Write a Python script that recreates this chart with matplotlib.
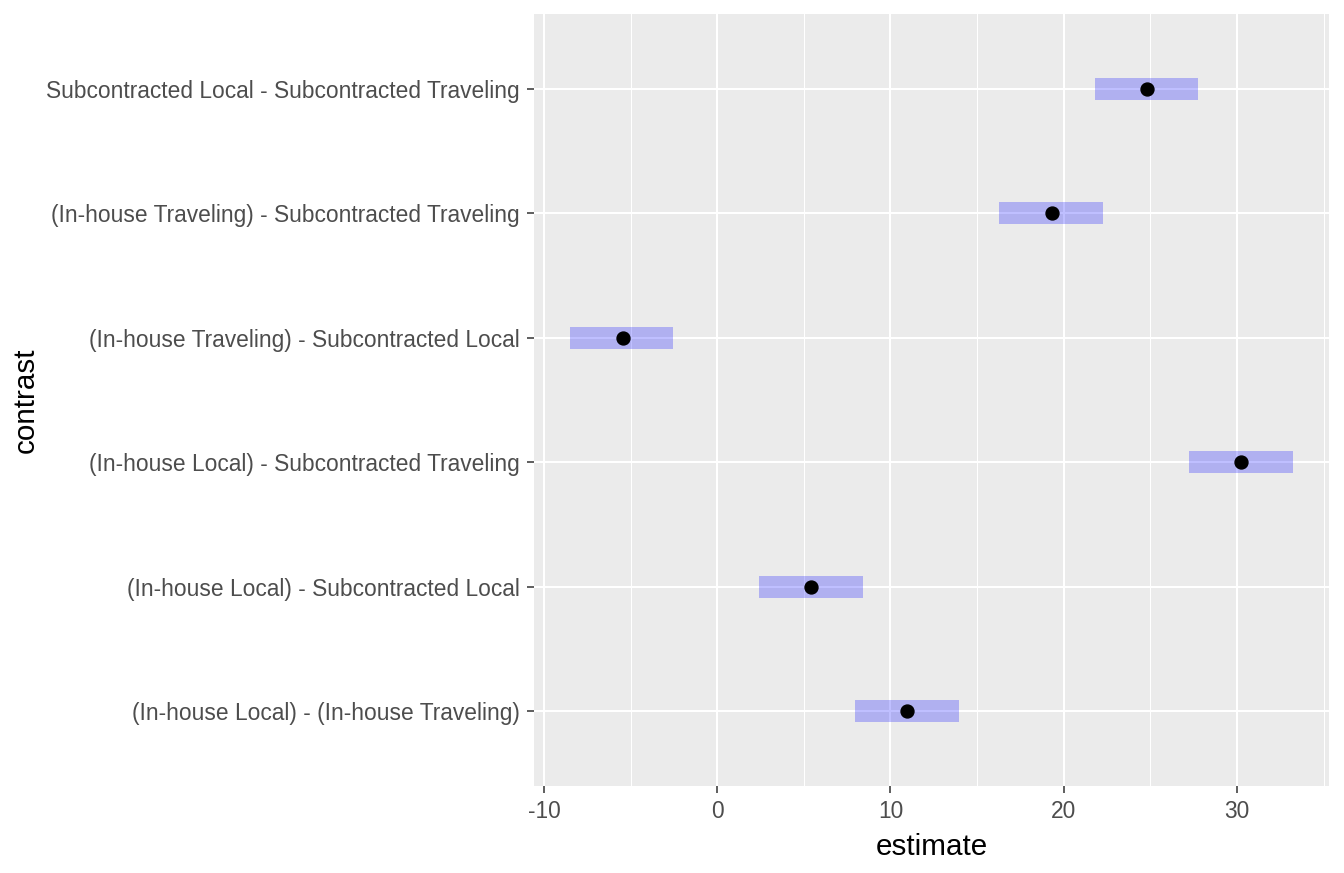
import matplotlib
matplotlib.use("Agg")
import matplotlib.pyplot as plt
from matplotlib.ticker import MultipleLocator

# contrasts, listed bottom to top
contrasts = [
    "(In-house Local) - (In-house Traveling)",
    "(In-house Local) - Subcontracted Local",
    "(In-house Local) - Subcontracted Traveling",
    "(In-house Traveling) - Subcontracted Local",
    "(In-house Traveling) - Subcontracted Traveling",
    "Subcontracted Local - Subcontracted Traveling",
]
estimate = [10.97, 5.44, 30.24, -5.46, 19.30, 24.82]
lower = [7.97, 2.41, 27.23, -8.49, 16.27, 21.81]
upper = [13.97, 8.42, 33.23, -2.54, 22.27, 27.76]

plt.rcParams['font.family'] = ['Liberation Sans', 'DejaVu Sans']
plt.rcParams['axes.unicode_minus'] = False

fig = plt.figure(figsize=(13.44, 8.73), dpi=100)
ax = fig.add_axes([534 / 1344, 1 - 786 / 873, (1329 - 534) / 1344, (786 - 14) / 873])
ax.set_facecolor("#EBEBEB")

ypos = list(range(1, len(contrasts) + 1))

# intervals
widths = [u - l for l, u in zip(lower, upper)]
ax.barh(ypos, widths, left=lower, height=0.177, color="blue", alpha=0.25,
        linewidth=0, zorder=3)
ax.plot(estimate, ypos, "o", color="black", ms=9.3, zorder=4)

# x range with ggplot-like 5% expansion
lo, hi = min(lower), max(upper)
pad = (hi - lo) * 0.05
ax.set_xlim(lo - pad, hi + pad)
ax.set_ylim(0.4, len(contrasts) + 0.6)

ax.xaxis.set_major_locator(MultipleLocator(10))
ax.xaxis.set_minor_locator(MultipleLocator(5))
ax.set_yticks(ypos)
ax.set_yticklabels(contrasts)

ax.grid(True, which="major", color="white", linewidth=1.5, zorder=1)
ax.grid(True, which="minor", axis="x", color="white", linewidth=0.75, zorder=1)
ax.set_axisbelow(True)
for s in ax.spines.values():
    s.set_visible(False)

ax.tick_params(axis="both", which="major", length=5, width=1.1, color="#333333",
               labelcolor="#4D4D4D", labelsize=16.4)
ax.tick_params(axis="x", pad=5)
ax.tick_params(axis="y", pad=5.5)
ax.tick_params(axis="x", which="minor", length=0)

ax.set_xlabel("estimate", fontsize=21.3, color="black", labelpad=7)
ax.set_ylabel("contrast", fontsize=21.3, color="black", labelpad=4)

fig.savefig("out.png", dpi=100)
